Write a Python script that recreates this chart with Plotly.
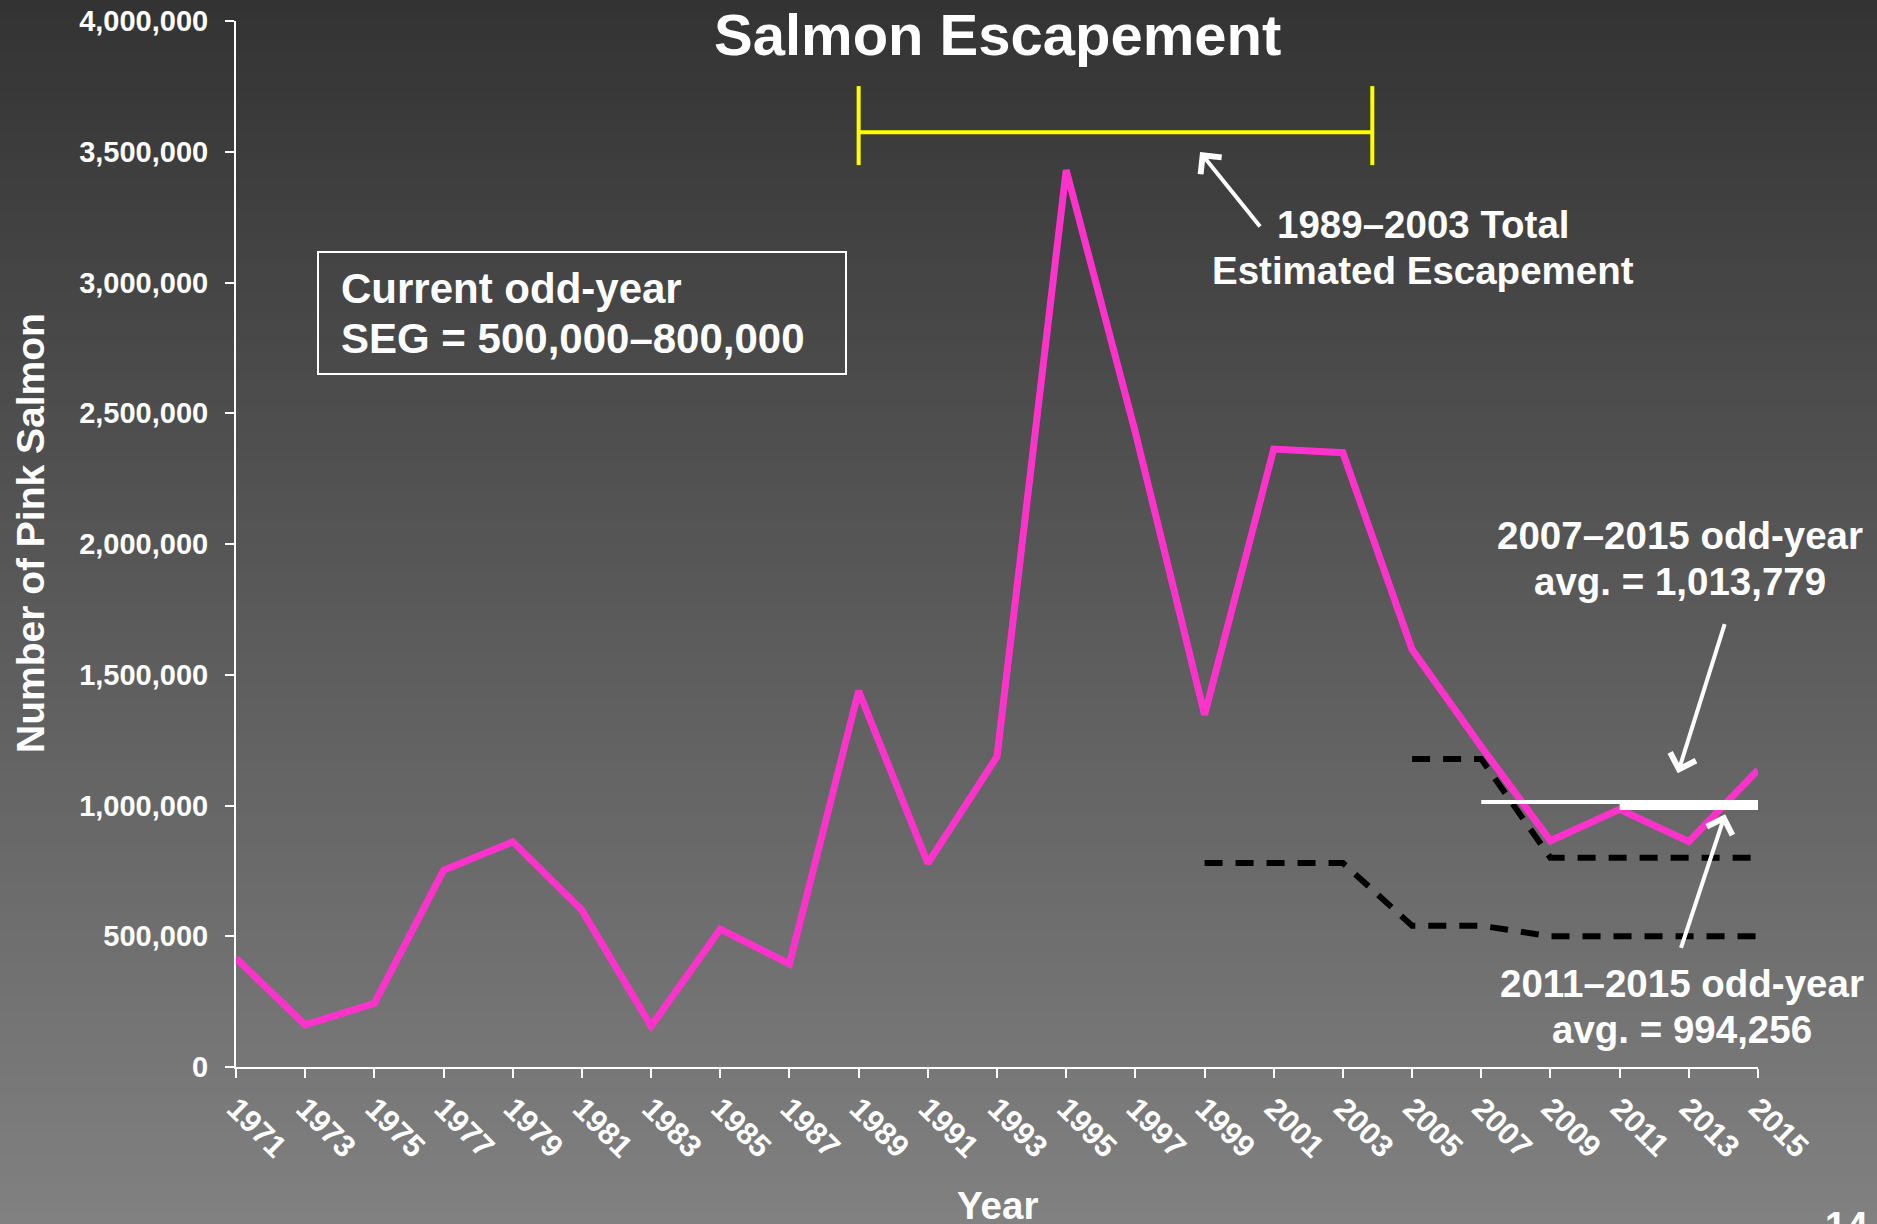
import plotly.graph_objects as go

# ---------------- data ----------------
years = list(range(1971, 2016, 2))
pink_salmon = [416000, 161000, 243000, 752000, 861000, 600000, 156000, 527000,
               394000, 1438000, 779000, 1187000, 3430000, 2427000, 1347000,
               2363000, 2349000, 1596000, 1225000, 865000, 985000, 862000, 1136000]

seg_upper_years = [2005, 2007, 2009, 2011, 2013, 2015]
seg_upper = [1178000, 1178000, 800000, 800000, 800000, 800000]

seg_lower_years = [1999, 2001, 2003, 2005, 2007, 2009, 2011, 2013, 2015]
seg_lower = [780000, 780000, 780000, 540000, 540000, 500000, 500000, 500000, 500000]

avg_0715_years = [2007, 2015]
avg_0715 = 1013779
avg_1115_years = [2011, 2015]
avg_1115 = 994256

bracket_years = [1989, 2003.85]
bracket_level = 3575000
bracket_cap = [3449000, 3751000]

y_ticks = [0, 500000, 1000000, 1500000, 2000000, 2500000, 3000000, 3500000, 4000000]
x_ticks = years

# ---------------- layout constants ----------------
W, H = 1877, 1224
ML, MR, MT, MB = 236, 119, 21, 157
PW, PH = W - ML - MR, H - MT - MB
FONT = "Liberation Sans, Arial, sans-serif"
PINK = "#FF33CC"
YELLOW = "#FFFF00"


def px_to_paper_y(py):
    return (H - MB - py) / PH


def px_to_paper_x(px):
    return (px - ML) / PW


fig = go.Figure()

fig.add_trace(go.Scatter(x=years, y=pink_salmon, mode="lines",
                         line=dict(color=PINK, width=7), hoverinfo="skip"))
fig.add_trace(go.Scatter(x=seg_upper_years, y=seg_upper, mode="lines",
                         line=dict(color="black", width=6, dash="18px,13px"), hoverinfo="skip"))
fig.add_trace(go.Scatter(x=seg_lower_years, y=seg_lower, mode="lines",
                         line=dict(color="black", width=6, dash="18px,13px"), hoverinfo="skip"))
fig.add_trace(go.Scatter(x=avg_0715_years, y=[avg_0715] * 2, mode="lines",
                         line=dict(color="white", width=4), hoverinfo="skip"))
fig.add_trace(go.Scatter(x=avg_1115_years, y=[avg_1115] * 2, mode="lines",
                         line=dict(color="white", width=6), hoverinfo="skip"))

shapes = []
# background gradient (dark top -> lighter bottom)
N = 122
top_c, bot_c = 51, 129
for i in range(N):
    p0 = i * H / N
    p1 = (i + 1) * H / N + 1
    c = int(round(top_c + (bot_c - top_c) * (i + 0.5) / N))
    shapes.append(dict(type="rect", xref="paper", yref="paper", layer="below",
                       x0=-0.3, x1=1.3, y0=px_to_paper_y(p1), y1=px_to_paper_y(p0),
                       line=dict(width=0), fillcolor=f"rgb({c},{c},{c})"))

# yellow bracket
shapes.append(dict(type="line", xref="x", yref="y", x0=bracket_years[0], x1=bracket_years[1],
                   y0=bracket_level, y1=bracket_level, line=dict(color=YELLOW, width=4)))
for bx in bracket_years:
    shapes.append(dict(type="line", xref="x", yref="y", x0=bx, x1=bx,
                       y0=bracket_cap[0], y1=bracket_cap[1], line=dict(color=YELLOW, width=4)))

# SEG text box border
shapes.append(dict(type="rect", xref="paper", yref="paper",
                   x0=px_to_paper_x(318), x1=px_to_paper_x(846),
                   y0=px_to_paper_y(374), y1=px_to_paper_y(252),
                   line=dict(color="white", width=2), fillcolor="rgba(0,0,0,0)"))

annotations = []


def add_text(text, px, py, size, xanchor="center", angle=0):
    annotations.append(dict(text=f"<b>{text}</b>", xref="paper", yref="paper",
                            x=px_to_paper_x(px), y=px_to_paper_y(py),
                            xanchor=xanchor, yanchor="middle", textangle=angle,
                            showarrow=False, font=dict(family=FONT, size=size, color="white")))


add_text("Salmon Escapement", (ML + W - MR) / 2, 35, 58)
add_text("Current odd-year", 339, 288.5, 42, xanchor="left")
add_text("SEG = 500,000–800,000", 339, 339, 42, xanchor="left")
add_text("1989–2003 Total", 1423, 224.5, 38.5)
add_text("Estimated Escapement", 1423, 270, 38.5)
add_text("2007–2015 odd-year", 1680, 535, 38.5)
add_text("avg. = 1,013,779", 1680, 581, 38.5)
add_text("2011–2015 odd-year", 1682, 983, 38.5)
add_text("avg. = 994,256", 1682, 1029.5, 38.5)
add_text("Number of Pink Salmon", 30, 533, 39, angle=-90)
add_text("Year", (ML + W - MR) / 2, 1205, 38.5)
add_text("14", 1846, 1225, 38.5)

# arrows (tail -> tip), in data coordinates
arrows = [
    ((2000.64, 3208000), (1998.87, 3499000)),
    ((2014.05, 1699000), (2012.68, 1123000)),
    ((2012.76, 450000), (2014.05, 967000)),
]
for (tx, ty), (hx, hy) in arrows:
    annotations.append(dict(text="", x=hx, y=hy, ax=tx, ay=ty, xref="x", yref="y",
                            axref="x", ayref="y", showarrow=True, arrowhead=4,
                            arrowsize=1.3, arrowwidth=4, arrowcolor="white", standoff=0))

fig.update_layout(
    width=W, height=H,
    margin=dict(l=ML, r=MR, t=MT, b=MB, pad=0, autoexpand=False),
    paper_bgcolor="rgb(90,90,90)", plot_bgcolor="rgba(0,0,0,0)",
    showlegend=False,
    shapes=shapes, annotations=annotations,
    font=dict(family=FONT, color="white"),
)
fig.update_xaxes(range=[1971, 2015], tickvals=x_ticks, ticktext=[str(v) for v in x_ticks],
                 tickangle=45, ticks="outside", ticklen=9, tickwidth=2, tickcolor="white",
                 showline=True, linecolor="white", linewidth=2, showgrid=False, zeroline=False,
                 automargin=False,
                 tickfont=dict(family=FONT, size=31, color="white", weight="bold"))
fig.update_yaxes(range=[0, 4000000], tickvals=y_ticks, tickformat=",d",
                 ticks="outside", ticklen=9, tickwidth=2, tickcolor="white",
                 showline=True, linecolor="white", linewidth=2, showgrid=False, zeroline=False,
                 automargin=False, ticklabelstandoff=11,
                 tickfont=dict(family=FONT, size=29, color="white", weight="bold"))

fig.write_html("out.html", config={"displayModeBar": False},
               post_script="document.body.style.margin='0';document.body.style.overflow='hidden';")
